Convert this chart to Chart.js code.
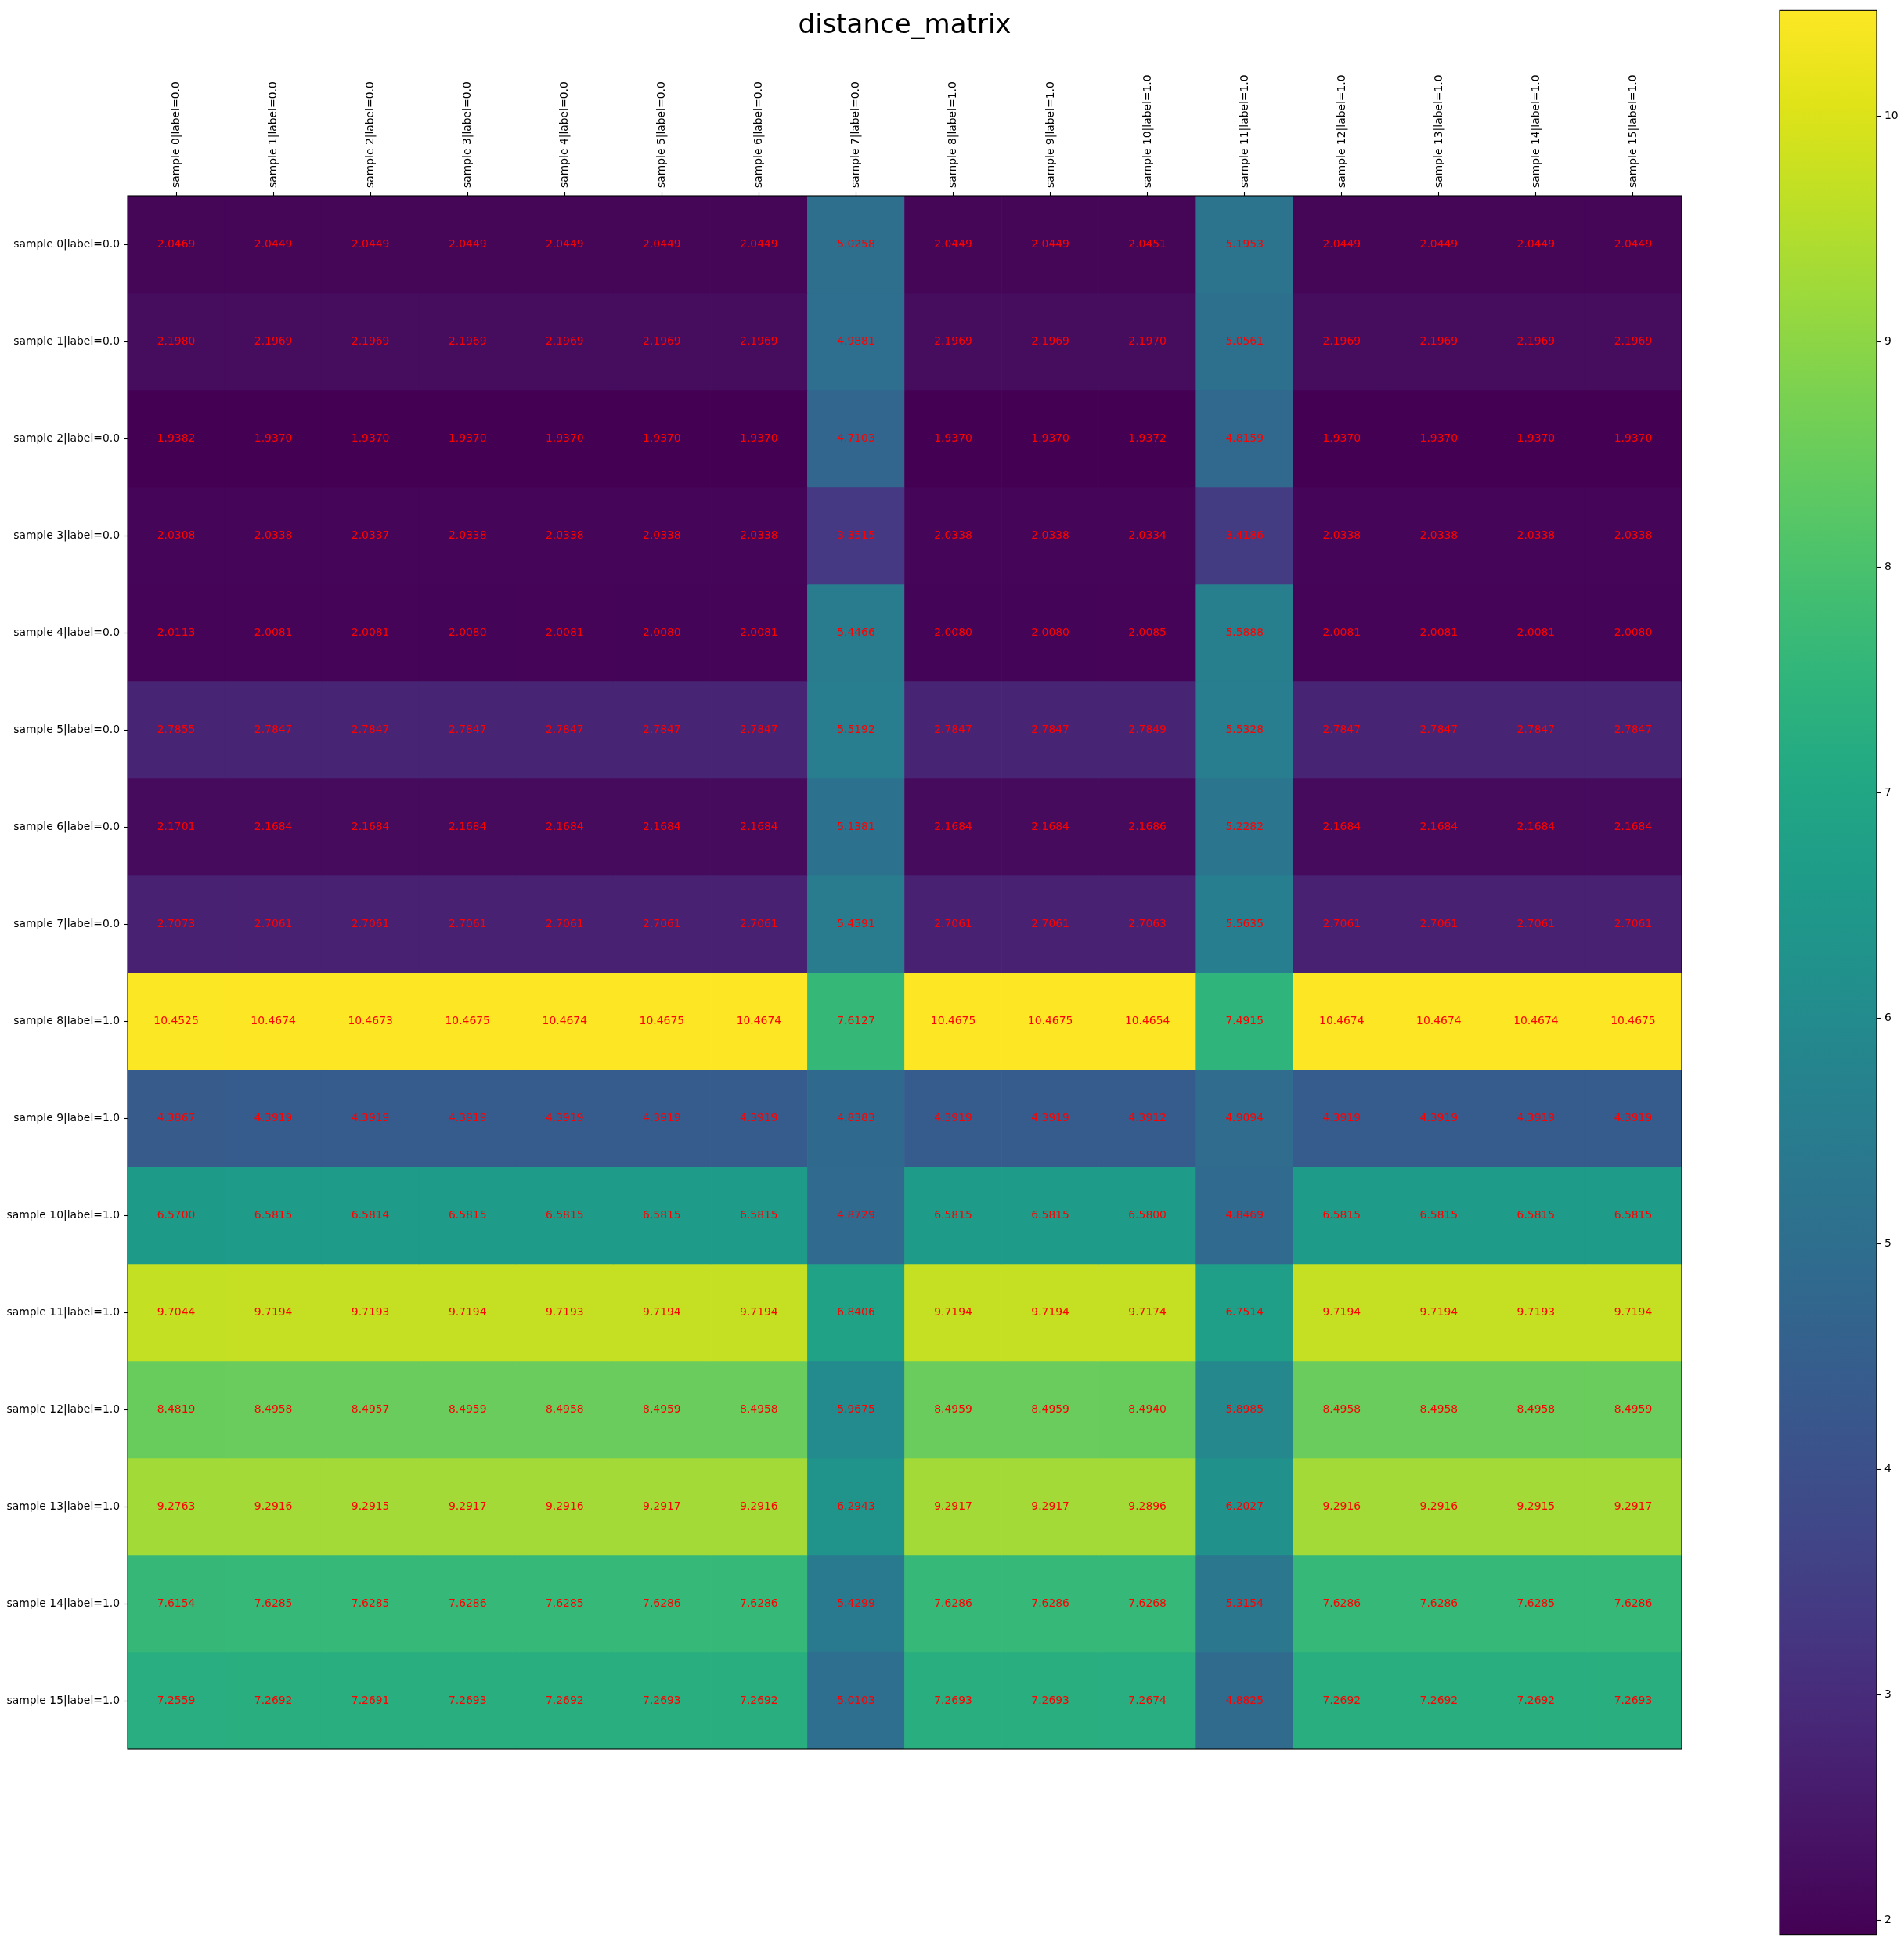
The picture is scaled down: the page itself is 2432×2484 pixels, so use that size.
<!DOCTYPE html>
<html>
<head>
<meta charset="utf-8">
<script src="https://cdn.jsdelivr.net/npm/chart.js@4.4.1/dist/chart.umd.min.js"></script>
<style>
body{margin:0;background:#fff;width:2432px;height:2484px;overflow:hidden;position:relative}
canvas{position:absolute;top:0}
#main{left:0}
#bar{left:2250px}
</style>
</head>
<body>
<canvas id="main" width="2432" height="2484"></canvas>
<canvas id="bar" width="182" height="2484"></canvas>
<script>
let title = "distance_matrix"
let sampleLabels = [
"sample 0|label=0.0","sample 1|label=0.0","sample 2|label=0.0","sample 3|label=0.0",
"sample 4|label=0.0","sample 5|label=0.0","sample 6|label=0.0","sample 7|label=0.0",
"sample 8|label=1.0","sample 9|label=1.0","sample 10|label=1.0","sample 11|label=1.0",
"sample 12|label=1.0","sample 13|label=1.0","sample 14|label=1.0","sample 15|label=1.0"
]
// one row per sample
let distances = [
[2.0469,2.0449,2.0449,2.0449,2.0449,2.0449,2.0449,5.0258,2.0449,2.0449,2.0451,5.1953,2.0449,2.0449,2.0449,2.0449],
[2.1980,2.1969,2.1969,2.1969,2.1969,2.1969,2.1969,4.9881,2.1969,2.1969,2.1970,5.0561,2.1969,2.1969,2.1969,2.1969],
[1.9382,1.9370,1.9370,1.9370,1.9370,1.9370,1.9370,4.7103,1.9370,1.9370,1.9372,4.8159,1.9370,1.9370,1.9370,1.9370],
[2.0308,2.0338,2.0337,2.0338,2.0338,2.0338,2.0338,3.3515,2.0338,2.0338,2.0334,3.4186,2.0338,2.0338,2.0338,2.0338],
[2.0113,2.0081,2.0081,2.0080,2.0081,2.0080,2.0081,5.4466,2.0080,2.0080,2.0085,5.5888,2.0081,2.0081,2.0081,2.0080],
[2.7855,2.7847,2.7847,2.7847,2.7847,2.7847,2.7847,5.5192,2.7847,2.7847,2.7849,5.5328,2.7847,2.7847,2.7847,2.7847],
[2.1701,2.1684,2.1684,2.1684,2.1684,2.1684,2.1684,5.1381,2.1684,2.1684,2.1686,5.2282,2.1684,2.1684,2.1684,2.1684],
[2.7073,2.7061,2.7061,2.7061,2.7061,2.7061,2.7061,5.4591,2.7061,2.7061,2.7063,5.5635,2.7061,2.7061,2.7061,2.7061],
[10.4525,10.4674,10.4673,10.4675,10.4674,10.4675,10.4674,7.6127,10.4675,10.4675,10.4654,7.4915,10.4674,10.4674,10.4674,10.4675],
[4.3867,4.3919,4.3919,4.3919,4.3919,4.3919,4.3919,4.8383,4.3919,4.3919,4.3912,4.9094,4.3919,4.3919,4.3919,4.3919],
[6.5700,6.5815,6.5814,6.5815,6.5815,6.5815,6.5815,4.8729,6.5815,6.5815,6.5800,4.8469,6.5815,6.5815,6.5815,6.5815],
[9.7044,9.7194,9.7193,9.7194,9.7193,9.7194,9.7194,6.8406,9.7194,9.7194,9.7174,6.7514,9.7194,9.7194,9.7193,9.7194],
[8.4819,8.4958,8.4957,8.4959,8.4958,8.4959,8.4958,5.9675,8.4959,8.4959,8.4940,5.8985,8.4958,8.4958,8.4958,8.4959],
[9.2763,9.2916,9.2915,9.2917,9.2916,9.2917,9.2916,6.2943,9.2917,9.2917,9.2896,6.2027,9.2916,9.2916,9.2915,9.2917],
[7.6154,7.6285,7.6285,7.6286,7.6285,7.6286,7.6286,5.4299,7.6286,7.6286,7.6268,5.3154,7.6286,7.6286,7.6285,7.6286],
[7.2559,7.2692,7.2691,7.2693,7.2692,7.2693,7.2692,5.0103,7.2693,7.2693,7.2674,4.8825,7.2692,7.2692,7.2692,7.2693]
]
let colorbarTicks = [2,3,4,5,6,7,8,9,10]

// viridis colormap, sampled every 0.05
let viridisStops = ["#440154","#471365","#482475","#463480","#414487","#3b528b","#355f8d","#2f6c8e","#2a788e","#25848e",
"#21918c","#1e9c89","#22a884","#2fb47c","#44bf70","#5ec962","#7ad151","#9bd93c","#bddf26","#dfe318","#fde725"]

function hexToRgb(h){
return [parseInt(h.slice(1,3),16),parseInt(h.slice(3,5),16),parseInt(h.slice(5,7),16)]
}
function viridis(t){
t = Math.max(0,Math.min(1,t))
let pos = t*(viridisStops.length-1)
let i = Math.min(Math.floor(pos),viridisStops.length-2)
let f = pos-i
let a = hexToRgb(viridisStops[i]), b = hexToRgb(viridisStops[i+1])
let c = a.map((v,k)=>Math.round(v+(b[k]-v)*f))
return `rgb(${c[0]},${c[1]},${c[2]})`
}

let allValues = distances.flat()
let vmin = Math.min(...allValues)
let vmax = Math.max(...allValues)
function colorFor(v){
return viridis((v-vmin)/(vmax-vmin))
}

let tickFont = {family:"DejaVu Sans",size:13.9}

let datasets = distances.map((row,r)=>({
label: sampleLabels[r],
data: row.map(()=>[r,r+1]),
values: row,
backgroundColor: row.map(colorFor),
borderWidth: 0,
barPercentage: 1,
categoryPercentage: 1,
grouped: false
}))

// red numbers in the cells
let cellText = {
id:"cellText",
afterDatasetsDraw(chart){
let ctx = chart.ctx
ctx.save()
ctx.font = '13.9px "DejaVu Sans"'
ctx.fillStyle = "#ff0000"
ctx.textAlign = "center"
ctx.textBaseline = "middle"
chart.data.datasets.forEach((ds,r)=>{
chart.getDatasetMeta(r).data.forEach((bar,c)=>{
let p = bar.getCenterPoint()
ctx.fillText(ds.values[c].toFixed(4),p.x,p.y)
})
})
ctx.restore()
}
}

let frame = {
id:"frame",
afterDraw(chart){
let ctx = chart.ctx
let a = chart.chartArea
ctx.save()
ctx.strokeStyle = "#000"
ctx.lineWidth = 1.1
ctx.strokeRect(a.left,a.top,a.right-a.left,a.bottom-a.top)
ctx.restore()
}
}

// title centred over the plot area like matplotlib does
let titlePlugin = {
id:"titlePlugin",
afterDraw(chart){
let ctx = chart.ctx
let a = chart.chartArea
ctx.save()
ctx.font = '34px "DejaVu Sans"'
ctx.fillStyle = "#000"
ctx.textAlign = "center"
ctx.textBaseline = "alphabetic"
ctx.fillText(title,(a.left+a.right)/2,42)
ctx.restore()
}
}

new Chart(document.getElementById("main"),{
type:"bar",
data:{labels:sampleLabels,datasets:datasets},
options:{
responsive:false,
animation:false,
devicePixelRatio:1,
layout:{padding:{left:0,right:284,top:0,bottom:250}},
plugins:{legend:{display:false},tooltip:{enabled:false}},
scales:{
x:{
type:"category",
position:"top",
offset:true,
grid:{display:true,drawOnChartArea:false,offset:false,tickLength:5,tickWidth:1.1,color:"#000"},
border:{display:false},
ticks:{autoSkip:false,minRotation:90,maxRotation:90,padding:5,labelOffset:17,color:"#000",font:tickFont},
afterFit:s=>{s.height = 250}
},
y:{
type:"linear",
min:0,
max:16,
reverse:true,
grid:{display:true,drawOnChartArea:false,tickLength:5,tickWidth:1.1,color:"#000"},
border:{display:false},
ticks:{padding:5,color:"#000",font:tickFont,callback:v=>sampleLabels[Math.floor(v)]},
afterBuildTicks:s=>{s.ticks = sampleLabels.map((l,i)=>({value:i+0.5}))},
afterFit:s=>{s.width = 163}
}
}
},
plugins:[cellText,frame,titlePlugin]
})

function gradientFill(context){
let chart = context.chart
if(!chart.chartArea) return "#21918c"
let y = chart.scales.y
let g = chart.ctx.createLinearGradient(0,y.getPixelForValue(vmin),0,y.getPixelForValue(vmax))
viridisStops.forEach((c,i)=>g.addColorStop(i/(viridisStops.length-1),c))
return g
}

new Chart(document.getElementById("bar"),{
type:"bar",
data:{labels:[""],datasets:[{
data:[[vmin,vmax]],
backgroundColor:gradientFill,
borderWidth:0,
barPercentage:1,
categoryPercentage:1
}]},
options:{
responsive:false,
animation:false,
devicePixelRatio:1,
layout:{padding:{left:23,right:0,top:11,bottom:13}},
plugins:{legend:{display:false},tooltip:{enabled:false}},
scales:{
x:{display:false},
y:{
position:"right",
min:vmin,
max:vmax,
grid:{display:true,drawOnChartArea:false,tickLength:5,tickWidth:1.1,color:"#000"},
border:{display:false},
ticks:{padding:5,color:"#000",font:tickFont,includeBounds:false},
afterBuildTicks:s=>{s.ticks = colorbarTicks.map(v=>({value:v}))},
afterFit:s=>{s.width = 35}
}
}
},
plugins:[frame]
})
</script>
</body>
</html>
